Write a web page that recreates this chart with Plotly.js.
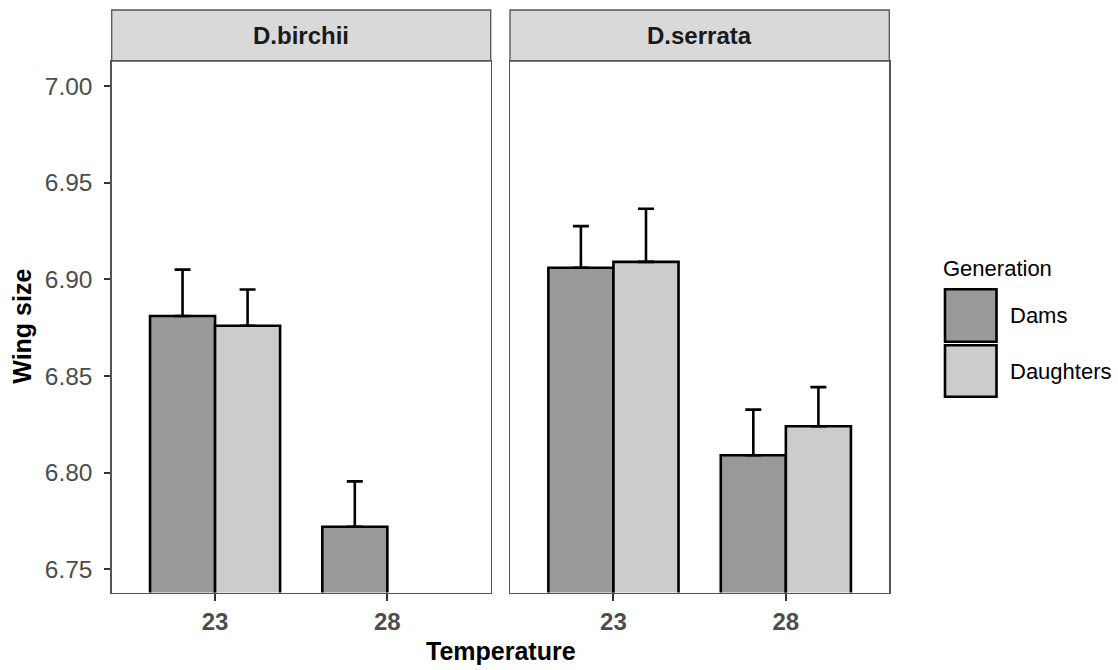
<!DOCTYPE html>
<html>
<head>
<meta charset="utf-8">
<script src="https://cdn.plot.ly/plotly-3.0.1.min.js"></script>
<style>
  html, body { margin: 0; padding: 0; background: #ffffff; }
  #chart { width: 1118px; height: 670px; }
</style>
</head>
<body>
<div id="chart"></div>
<script>
// Mean wing size by rearing temperature, per species and generation
const temperatures = ['23', '28'];
const species = ['D.birchii', 'D.serrata'];
const generations = ['Dams', 'Daughters'];

const birchiiDams = [6.881, 6.772];
const birchiiDamsErr = [0.024, 0.0235];
const birchiiDaughters = [6.876, null];
const birchiiDaughtersErr = [0.0187, null];

const serrataDams = [6.906, 6.809];
const serrataDamsErr = [0.0215, 0.0236];
const serrataDaughters = [6.909, 6.824];
const serrataDaughtersErr = [0.0275, 0.0202];

const yTicks = [6.75, 6.80, 6.85, 6.90, 6.95, 7.00];

const fills = { Dams: '#999999', Daughters: '#cccccc' };
const FONT = 'Liberation Sans, Arial, Helvetica, sans-serif';

// figure geometry in pixels
const W = 1118, H = 670;
const panels = [[111.7, 490.7], [510.0, 889.3]];
const plotTop = 61, plotBottom = 592.5, stripTop = 10;
const px = v => v / W;
const py = v => 1 - v / H;

function barTrace(name, values, errs, xa, ya) {
  return {
    type: 'bar',
    name: name,
    x: temperatures,
    y: values,
    xaxis: xa,
    yaxis: ya,
    showlegend: false,
    marker: { color: fills[name], line: { color: '#000000', width: 2.6 } },
    error_y: {
      type: 'data', symmetric: false,
      array: errs, arrayminus: errs.map(e => (e === null ? null : 0)),
      color: '#000000', thickness: 2.6, width: 8
    },
    hoverinfo: 'x+y+name'
  };
}

const data = [
  barTrace(generations[0], birchiiDams, birchiiDamsErr, 'x', 'y'),
  barTrace(generations[1], birchiiDaughters, birchiiDaughtersErr, 'x', 'y'),
  barTrace(generations[0], serrataDams, serrataDamsErr, 'x2', 'y2'),
  barTrace(generations[1], serrataDaughters, serrataDaughtersErr, 'x2', 'y2')
];

const yRange = [6.738, 7.0129];

function xAxis(i) {
  return {
    domain: [px(panels[i][0]), px(panels[i][1])],
    anchor: i === 0 ? 'y' : 'y2',
    type: 'category',
    categoryorder: 'array',
    categoryarray: temperatures,
    range: [-0.6, 1.6],
    showgrid: false, zeroline: false,
    showline: true, mirror: true, linecolor: '#555555', linewidth: 1.3,
    ticks: 'outside', ticklen: 7, tickwidth: 2, tickcolor: '#333333',
    tickfont: { family: FONT, size: 24, color: '#4d4d4d', weight: 'bold' },
    fixedrange: true
  };
}

function yAxis(i) {
  return {
    domain: [py(plotBottom), py(plotTop)],
    anchor: i === 0 ? 'x' : 'x2',
    range: yRange,
    showgrid: false, zeroline: false,
    showline: true, mirror: true, linecolor: '#555555', linewidth: 1.3,
    tickmode: 'array',
    tickvals: yTicks,
    ticktext: yTicks.map(v => v.toFixed(2)),
    ticks: i === 0 ? 'outside' : '',
    showticklabels: i === 0,
    ticklen: 6, tickwidth: 2, tickcolor: '#333333',
    ticklabelstandoff: 7,
    tickfont: { family: FONT, size: 24.5, color: '#4d4d4d' },
    fixedrange: true
  };
}

// facet strips
const shapes = panels.map(p => ({
  type: 'rect', xref: 'paper', yref: 'paper',
  x0: px(p[0]), x1: px(p[1]), y0: py(plotTop), y1: py(stripTop),
  fillcolor: '#d9d9d9', line: { color: '#555555', width: 1.3 }, layer: 'below'
}));

// legend keys
const keyBoxes = [
  { name: generations[0], top: 289.3, bottom: 341.7 },
  { name: generations[1], top: 345.3, bottom: 396.7 }
];
keyBoxes.forEach(k => shapes.push({
  type: 'rect', xref: 'paper', yref: 'paper',
  x0: px(945), x1: px(996.5), y0: py(k.bottom), y1: py(k.top),
  fillcolor: fills[k.name], line: { color: '#000000', width: 2.6 }
}));

const annotations = [];
species.forEach((s, i) => annotations.push({
  text: s, xref: 'paper', yref: 'paper',
  x: px((panels[i][0] + panels[i][1]) / 2), y: py((stripTop + plotTop) / 2),
  xanchor: 'center', yanchor: 'middle', showarrow: false,
  font: { family: FONT, size: 24, color: '#1a1a1a', weight: 'bold' }
}));

annotations.push({
  text: 'Temperature', xref: 'paper', yref: 'paper',
  x: px((panels[0][0] + panels[1][1]) / 2), y: py(651),
  xanchor: 'center', yanchor: 'middle', showarrow: false,
  font: { family: FONT, size: 25, color: '#000000', weight: 'bold' }
});
annotations.push({
  text: 'Wing size', xref: 'paper', yref: 'paper',
  x: px(22), y: py((plotTop + plotBottom) / 2), textangle: -90,
  xanchor: 'center', yanchor: 'middle', showarrow: false,
  font: { family: FONT, size: 25, color: '#000000', weight: 'bold' }
});
annotations.push({
  text: 'Generation', xref: 'paper', yref: 'paper',
  x: px(941), y: py(268), xanchor: 'left', yanchor: 'middle', showarrow: false,
  font: { family: FONT, size: 22, color: '#000000' }
});
keyBoxes.forEach(k => annotations.push({
  text: k.name, xref: 'paper', yref: 'paper',
  x: px(1008), y: py((k.top + k.bottom) / 2), xanchor: 'left', yanchor: 'middle',
  showarrow: false,
  font: { family: FONT, size: 22, color: '#000000' }
}));

const layout = {
  width: W, height: H,
  margin: { l: 0, r: 0, t: 0, b: 0 },
  paper_bgcolor: '#ffffff', plot_bgcolor: '#ffffff',
  barmode: 'group', bargap: 0.245, bargroupgap: 0,
  showlegend: false,
  xaxis: xAxis(0), xaxis2: xAxis(1),
  yaxis: yAxis(0), yaxis2: yAxis(1),
  shapes: shapes,
  annotations: annotations,
  font: { family: FONT }
};

Plotly.newPlot('chart', data, layout, { displayModeBar: false, staticPlot: true });
</script>
</body>
</html>
